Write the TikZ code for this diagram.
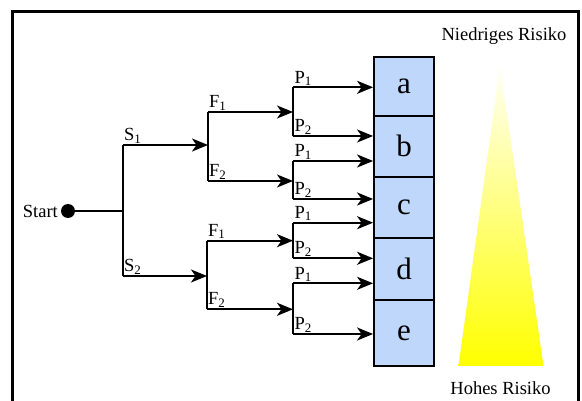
\documentclass[tikz,border=0pt]{standalone}
\usepackage{fontspec}
\setmainfont{Liberation Serif}
\usetikzlibrary{arrows.meta,calc}
\definecolor{boxblue}{RGB}{190,215,250}
\begin{document}
\begin{tikzpicture}[x=1pt,y=-1pt,
  ln/.style={line width=2.1pt},
  arr/.style={ln,-{Stealth[length=16pt,width=13pt,inset=4.5pt]}},
  lbl/.style={font=\fontsize{18.5}{20}\selectfont,inner sep=0pt,anchor=south west},
  cell/.style={draw,line width=1.8pt,fill=boxblue,minimum width=60pt,inner sep=0pt,font=\fontsize{31}{32}\selectfont},
  txt/.style={font=\fontsize{18.5}{20}\selectfont,inner sep=0pt}]
\useasboundingbox (0,0) rectangle (582,401);
\draw[line width=3pt] (12,12) rectangle (578.5,412);
% gradient triangle
\shade[top color=yellow!4, middle color=yellow!62, bottom color=yellow] (500,66) -- (543.5,366) -- (458.5,366) -- cycle;
\node[txt] (low) at (504,36) {Niedriges Risiko};
\node[txt] (high) at (500.5,388) {Hohes Risiko};
% boxes
\node[cell,minimum height=59pt] (a) at (404,86.2) {a};
\node[cell,minimum height=61pt] (b) at (404,146.2) {b};
\node[cell,minimum height=61.6pt] (c) at (404,207.5) {c};
\node[cell,minimum height=61.7pt] (d) at (404,269.2) {d};
\node[cell,minimum height=66pt] (e) at (404,333) {e};
% start
\node[circle,fill=black,minimum size=14pt,inner sep=0pt] (start) at (68,211) {};
\node[txt,anchor=east] (stxt) at (58,211) {Start};
\coordinate (J) at (123,211);
\coordinate (S1) at (123,145);
\coordinate (S2) at (123,276);
\coordinate (F1) at (208,145);
\coordinate (F2) at (207,276);
\coordinate (F1a) at (208,112);
\coordinate (F1b) at (208,181);
\coordinate (F2a) at (207,240.7);
\coordinate (F2b) at (207,309.3);
\coordinate (G1) at (293,112);
\coordinate (G2) at (293,181);
\coordinate (G3) at (293,240.7);
\coordinate (G4) at (293,309.3);
\coordinate (G1a) at (293,87.3);
\coordinate (G1b) at (293,136);
\coordinate (G2a) at (293,161);
\coordinate (G2b) at (293,199);
\coordinate (G3a) at (293,222.7);
\coordinate (G3b) at (293,258.3);
\coordinate (G4a) at (293,283.3);
\coordinate (G4b) at (293,334);
\draw[ln] (start) -- (J);
\draw[ln] (S1) -- (S2);
\draw[arr] (S1) -- (F1);
\draw[arr] (S2) -- (F2);
\node[lbl] at (124,143.5) {S\textsubscript{1}};
\node[lbl] at (124,274.5) {S\textsubscript{2}};
\draw[ln] (F1a) -- (F1b);
\draw[ln] (F2a) -- (F2b);
\draw[arr] (F1a) -- (G1);
\draw[arr] (F1b) -- (G2);
\draw[arr] (F2a) -- (G3);
\draw[arr] (F2b) -- (G4);
\node[lbl] at (209,110.5) {F\textsubscript{1}};
\node[lbl] at (209,179.5) {F\textsubscript{2}};
\node[lbl] at (208,239.2) {F\textsubscript{1}};
\node[lbl] at (208,307.8) {F\textsubscript{2}};
\foreach \g in {1,2,3,4}{
  \draw[ln] (G\g a) -- (G\g b);
  \node[lbl] at ($(G\g a)+(1.5,-1.5)$) {P\textsubscript{1}};
  \node[lbl] at ($(G\g b)+(1.5,-1.5)$) {P\textsubscript{2}};
}
\draw[arr] (G1a) -- (a.west |- G1a);
\draw[arr] (G1b) -- (b.west |- G1b);
\draw[arr] (G2a) -- (b.west |- G2a);
\draw[arr] (G2b) -- (c.west |- G2b);
\draw[arr] (G3a) -- (c.west |- G3a);
\draw[arr] (G3b) -- (d.west |- G3b);
\draw[arr] (G4a) -- (d.west |- G4a);
\draw[arr] (G4b) -- (e.west |- G4b);
\end{tikzpicture}
\end{document}
